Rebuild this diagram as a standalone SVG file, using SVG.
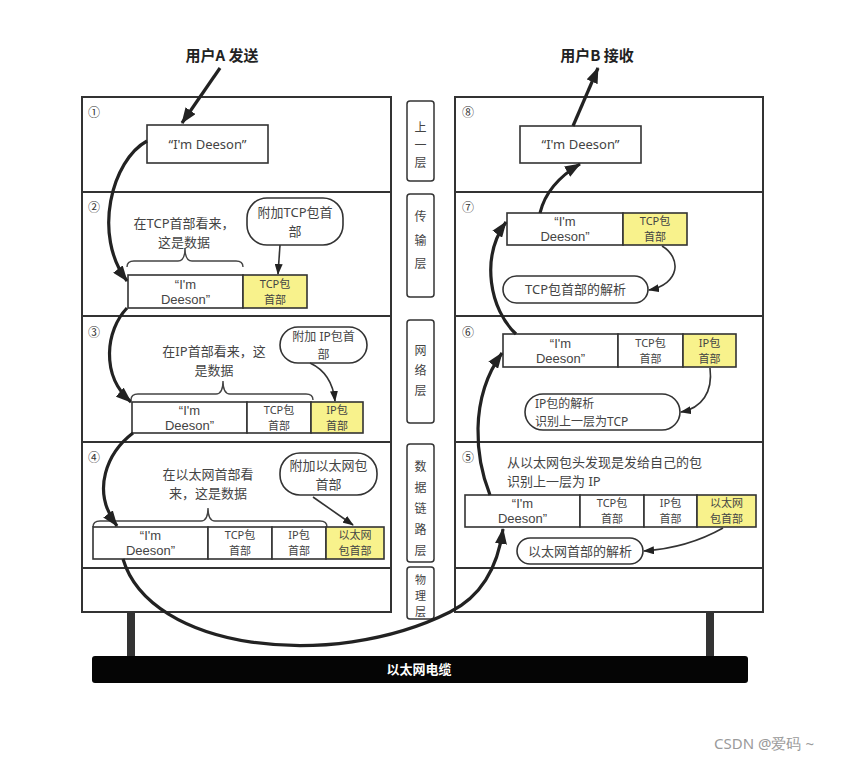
<svg xmlns="http://www.w3.org/2000/svg" width="843" height="762" viewBox="0 0 843 762">
<defs>
<style>
.panel{fill:#fff;stroke:#333;stroke-width:2}
.div{stroke:#333;stroke-width:2}
.cell{fill:#fff;stroke:#333;stroke-width:1.6}
.yel{fill:#f8f28c;stroke:#333;stroke-width:1.6}
.bub{fill:#fff;stroke:#333;stroke-width:1.6}
.lay{fill:#fff;stroke:#333;stroke-width:1.5}
.t{font-family:"Noto Sans","Noto Sans CJK SC",sans-serif;font-size:13px;fill:#444}
.t12{font-family:"Noto Sans","Noto Sans CJK SC",sans-serif;font-size:12px;fill:#444}
.d{font-family:"Liberation Sans",Arial,sans-serif;font-size:13px;fill:#444;text-anchor:middle}
.s{font-family:"Noto Sans","Noto Sans CJK SC",sans-serif;font-size:11px;fill:#444;text-anchor:middle}
.c{text-anchor:middle}
.num{font-family:"Noto Sans CJK SC",sans-serif;font-size:12px;fill:#333}
.title{font-family:"Noto Sans CJK SC",sans-serif;font-size:15px;font-weight:bold;fill:#222;text-anchor:middle}
.vt{font-family:"Noto Sans CJK SC",sans-serif;font-size:12px;fill:#444;text-anchor:middle}
.vs{font-family:"Noto Sans CJK SC",sans-serif;font-size:11px;fill:#444;text-anchor:middle}
.thick{fill:none;stroke:#222;stroke-width:3.2}
.thin{fill:none;stroke:#333;stroke-width:1.6}
.brace{fill:none;stroke:#444;stroke-width:1.4}
</style>
<marker id="ah" viewBox="0 0 16 12" refX="15" refY="6" markerWidth="16" markerHeight="12" orient="auto" markerUnits="userSpaceOnUse"><path d="M0,0 L16,6 L0,12 z" fill="#222"/></marker>
<marker id="as" viewBox="0 0 11 8" refX="10" refY="4" markerWidth="11" markerHeight="8" orient="auto" markerUnits="userSpaceOnUse"><path d="M0,0 L11,4 L0,8 z" fill="#222"/></marker>
</defs>
<rect width="843" height="762" fill="#fff"/>

<text class="title" x="222" y="61">用户A 发送</text>
<text class="title" x="597" y="61">用户B 接收</text>

<g id="cable">
<rect x="127" y="612" width="8" height="46" fill="#333"/>
<rect x="706" y="612" width="8" height="46" fill="#333"/>
<rect x="92" y="656" width="656" height="27" rx="3" fill="#050505"/>
<text x="419" y="674" font-family="Noto Sans CJK SC,sans-serif" font-size="13" font-weight="bold" fill="#fff" text-anchor="middle">以太网电缆</text>
</g>

<g id="left-panel">
<rect class="panel" x="82" y="97" width="309" height="515"/>
<line class="div" x1="82" y1="192" x2="391" y2="192"/>
<line class="div" x1="82" y1="316" x2="391" y2="316"/>
<line class="div" x1="82" y1="442" x2="391" y2="442"/>
<line class="div" x1="82" y1="568" x2="391" y2="568"/>
<text class="num" x="88" y="117">①</text>
<text class="num" x="88" y="212">②</text>
<text class="num" x="88" y="337">③</text>
<text class="num" x="88" y="462">④</text>
</g>

<g id="right-panel">
<rect class="panel" x="455" y="97" width="308" height="515"/>
<line class="div" x1="455" y1="192" x2="763" y2="192"/>
<line class="div" x1="455" y1="316" x2="763" y2="316"/>
<line class="div" x1="455" y1="442" x2="763" y2="442"/>
<line class="div" x1="455" y1="568" x2="763" y2="568"/>
<text class="num" x="462" y="117">⑧</text>
<text class="num" x="462" y="212">⑦</text>
<text class="num" x="462" y="337">⑥</text>
<text class="num" x="462" y="462">⑤</text>
</g>

<g id="layer-upper">
<rect class="lay" x="407" y="101" width="27" height="80" rx="3"/>
<text class="vt" x="420.5" y="132"><tspan x="420.5">上</tspan><tspan x="420.5" dy="17.6">一</tspan><tspan x="420.5" dy="17.6">层</tspan></text>
</g>
<g id="layer-transport">
<rect class="lay" x="407" y="194" width="27" height="103" rx="3"/>
<text class="vt" x="420.5" y="221"><tspan x="420.5">传</tspan><tspan x="420.5" dy="23.5">输</tspan><tspan x="420.5" dy="23.5">层</tspan></text>
</g>
<g id="layer-network">
<rect class="lay" x="407" y="320" width="27" height="103" rx="3"/>
<text class="vt" x="420.5" y="355"><tspan x="420.5">网</tspan><tspan x="420.5" dy="20">络</tspan><tspan x="420.5" dy="20">层</tspan></text>
</g>
<g id="layer-datalink">
<rect class="lay" x="407" y="444" width="27" height="118" rx="3"/>
<text class="vt" x="420.5" y="471"><tspan x="420.5">数</tspan><tspan x="420.5" dy="21">据</tspan><tspan x="420.5" dy="21">链</tspan><tspan x="420.5" dy="21">路</tspan><tspan x="420.5" dy="21">层</tspan></text>
</g>
<g id="layer-physical">
<rect class="lay" x="407" y="567" width="27" height="52" rx="3"/>
<text class="vs" x="420.5" y="584"><tspan x="420.5">物</tspan><tspan x="420.5" dy="16">理</tspan><tspan x="420.5" dy="16">层</tspan></text>
</g>

<g id="n1-data">
<rect class="cell" x="147" y="125" width="121" height="38"/>
<text class="t c" x="207.5" y="149">“I'm Deeson”</text>
</g>

<g id="n2-note">
<text class="t c" x="184" y="228"><tspan x="184">在TCP首部看来，</tspan><tspan x="184" dy="19">这是数据</tspan></text>
<path class="brace" d="M127,267 Q127,261 134,261 L178,261 Q185,261 185,248 Q185,261 192,261 L236,261 Q243,261 243,267"/>
</g>
<g id="n2-bubble">
<rect class="bub" x="247" y="198" width="96" height="47" rx="20"/>
<text class="t c" x="295" y="217"><tspan x="295">附加TCP包首</tspan><tspan x="295" dy="19">部</tspan></text>
</g>
<g id="n2-packet">
<rect class="cell" x="128" y="275" width="115" height="33"/>
<rect class="yel" x="243" y="275" width="64" height="33"/>
<text class="d" x="185.5" y="289"><tspan x="185.5">“I'm</tspan><tspan x="185.5" dy="15">Deeson”</tspan></text>
<text class="s" x="275" y="288"><tspan x="275">TCP包</tspan><tspan x="275" dy="16">首部</tspan></text>
</g>

<g id="n3-note">
<text class="t c" x="214" y="356"><tspan x="214">在IP首部看来，这</tspan><tspan x="214" dy="19">是数据</tspan></text>
<path class="brace" d="M131,400 Q131,394 138,394 L216,394 Q223,394 223,381 Q223,394 230,394 L306,394 Q313,394 313,400"/>
</g>
<g id="n3-bubble">
<rect class="bub" x="280" y="327" width="87" height="36" rx="18"/>
<text class="t12" x="323.5" y="341" text-anchor="middle"><tspan x="323.5">附加 IP包首</tspan><tspan x="323.5" dy="17.5">部</tspan></text>
</g>
<g id="n3-packet">
<rect class="cell" x="132" y="402" width="115" height="31"/>
<rect class="cell" x="247" y="402" width="64" height="31"/>
<rect class="yel" x="311" y="402" width="52" height="31"/>
<text class="d" x="189.5" y="414.5"><tspan x="189.5">“I'm</tspan><tspan x="189.5" dy="15">Deeson”</tspan></text>
<text class="s" x="279" y="414"><tspan x="279">TCP包</tspan><tspan x="279" dy="16">首部</tspan></text>
<text class="s" x="337" y="414"><tspan x="337">IP包</tspan><tspan x="337" dy="16">首部</tspan></text>
</g>

<g id="n4-note">
<text class="t c" x="208" y="479"><tspan x="208">在以太网首部看</tspan><tspan x="208" dy="19">来，这是数据</tspan></text>
<path class="brace" d="M93,527 Q93,521 100,521 L201,521 Q208,521 208,508 Q208,521 215,521 L320,521 Q327,521 327,527"/>
</g>
<g id="n4-bubble">
<rect class="bub" x="280" y="453" width="97" height="42" rx="20"/>
<text class="t c" x="328.5" y="470"><tspan x="328.5">附加以太网包</tspan><tspan x="328.5" dy="19">首部</tspan></text>
</g>
<g id="n4-packet">
<rect class="cell" x="93" y="527" width="115" height="32"/>
<rect class="cell" x="208" y="527" width="64" height="32"/>
<rect class="cell" x="272" y="527" width="54" height="32"/>
<rect class="yel" x="326" y="527" width="58" height="32"/>
<text class="d" x="150.5" y="540"><tspan x="150.5">“I'm</tspan><tspan x="150.5" dy="15">Deeson”</tspan></text>
<text class="s" x="240" y="539"><tspan x="240">TCP包</tspan><tspan x="240" dy="16">首部</tspan></text>
<text class="s" x="299" y="539"><tspan x="299">IP包</tspan><tspan x="299" dy="16">首部</tspan></text>
<text class="s" x="355" y="539"><tspan x="355">以太网</tspan><tspan x="355" dy="16">包首部</tspan></text>
</g>

<g id="n8-data">
<rect class="cell" x="520" y="126" width="121" height="37"/>
<text class="t c" x="580.5" y="149">“I'm Deeson”</text>
</g>

<g id="n7-packet">
<rect class="cell" x="507" y="213" width="116" height="32"/>
<rect class="yel" x="623" y="213" width="64" height="32"/>
<text class="d" x="565" y="226"><tspan x="565">“I'm</tspan><tspan x="565" dy="15">Deeson”</tspan></text>
<text class="s" x="655" y="225"><tspan x="655">TCP包</tspan><tspan x="655" dy="16">首部</tspan></text>
</g>
<g id="n7-bubble">
<rect class="bub" x="503" y="276" width="145" height="27" rx="13.5"/>
<text class="t c" x="575.5" y="294">TCP包首部的解析</text>
</g>

<g id="n6-packet">
<rect class="cell" x="503" y="334" width="115" height="33"/>
<rect class="cell" x="618" y="334" width="65" height="33"/>
<rect class="yel" x="683" y="334" width="53" height="33"/>
<text class="d" x="560.5" y="348"><tspan x="560.5">“I'm</tspan><tspan x="560.5" dy="15">Deeson”</tspan></text>
<text class="s" x="650.5" y="347"><tspan x="650.5">TCP包</tspan><tspan x="650.5" dy="16">首部</tspan></text>
<text class="s" x="709.5" y="347"><tspan x="709.5">IP包</tspan><tspan x="709.5" dy="16">首部</tspan></text>
</g>
<g id="n6-bubble">
<rect class="bub" x="525" y="394" width="155" height="36" rx="18"/>
<text class="t12" x="535" y="408"><tspan x="535">IP包的解析</tspan><tspan x="535" dy="17.5">识别上一层为TCP</tspan></text>
</g>

<g id="n5-note">
<text class="t" x="507" y="467"><tspan x="507">从以太网包头发现是发给自己的包</tspan><tspan x="507" dy="19">识别上一层为 IP</tspan></text>
</g>
<g id="n5-packet">
<rect class="cell" x="465" y="495" width="115" height="32"/>
<rect class="cell" x="580" y="495" width="64" height="32"/>
<rect class="cell" x="644" y="495" width="53" height="32"/>
<rect class="yel" x="697" y="495" width="59" height="32"/>
<text class="d" x="522.5" y="508"><tspan x="522.5">“I'm</tspan><tspan x="522.5" dy="15">Deeson”</tspan></text>
<text class="s" x="612" y="507"><tspan x="612">TCP包</tspan><tspan x="612" dy="16">首部</tspan></text>
<text class="s" x="670.5" y="507"><tspan x="670.5">IP包</tspan><tspan x="670.5" dy="16">首部</tspan></text>
<text class="s" x="726.5" y="507"><tspan x="726.5">以太网</tspan><tspan x="726.5" dy="16">包首部</tspan></text>
</g>
<g id="n5-bubble">
<rect class="bub" x="517" y="538" width="126" height="26" rx="13"/>
<text class="t c" x="580" y="556">以太网首部的解析</text>
</g>

<text x="764" y="749" font-family="Noto Sans,sans-serif" font-size="15" fill="#9a9a9a" text-anchor="middle">CSDN @爱码 ~</text>

<g id="connectors">
<path class="thick" d="M220,68 L182,123" marker-end="url(#ah)"/>
<path class="thick" d="M147,141 C112,160 92,235 127,281" marker-end="url(#ah)"/>
<path class="thick" d="M127,308 C106,330 100,375 131,402" marker-end="url(#ah)"/>
<path class="thick" d="M133,433 C108,452 90,490 117,526" marker-end="url(#ah)"/>
<path class="thick" d="M123,559 C150,650 330,672 450,612 C482,596 498,566 503,529" marker-end="url(#ah)"/>
<path class="thick" d="M490,495 C476,460 468,400 502,353" marker-end="url(#ah)"/>
<path class="thick" d="M516,334 C490,310 480,258 506,222" marker-end="url(#ah)"/>
<path class="thick" d="M540,213 C545,192 560,176 580,164" marker-end="url(#ah)"/>
<path class="thick" d="M573,126 L598,68" marker-end="url(#ah)"/>
<path class="thin" d="M280,245 L278,274" marker-end="url(#as)"/>
<path class="thin" d="M310,363 C325,370 333,382 335,401" marker-end="url(#as)"/>
<path class="thin" d="M313,497 L353,525" marker-end="url(#as)"/>
<path class="thin" d="M662,246 C682,258 680,284 649,290" marker-end="url(#as)"/>
<path class="thin" d="M710,368 C713,392 702,408 681,412" marker-end="url(#as)"/>
<path class="thin" d="M723,528 C700,541 672,549 644,551" marker-end="url(#as)"/>
</g>
</svg>
